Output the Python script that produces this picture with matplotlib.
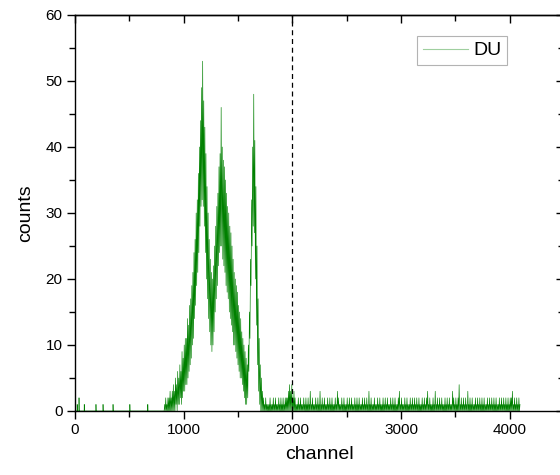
import numpy as np
import matplotlib
matplotlib.use("Agg")
import matplotlib.pyplot as plt

#%% Figure settings
plt.rcParams['font.family'] = ['Liberation Sans', 'DejaVu Sans']
plt.rcParams['axes.linewidth'] = 1.0

#%% Spectrum data (DU)
# isolated counts below the first peak
spike_ch = [20, 37, 85, 193, 258, 350, 505, 670]
spike_cnt = [1, 2, 1, 1, 1, 1, 1, 1]

# peak region, 10-channel bins starting at 820: lowest / highest count in each bin
peak_start = 820
peak_high = [1, 2, 1, 2, 2, 3, 2, 3, 4, 3,
             5, 4, 6, 5, 7, 6, 9, 8, 10, 11,
             11, 14, 13, 16, 17, 19, 21, 24, 26, 30,
             32, 36, 40, 44, 49, 53, 47, 43, 39, 34,
             30, 26, 23, 21, 20, 22, 25, 28, 31, 33,
             37, 39, 46, 40, 38, 37, 35, 33, 31, 30,
             28, 27, 25, 23, 21, 20, 19, 18, 16, 15,
             14, 12, 11, 10, 9, 8, 7, 10, 15, 23,
             32, 40, 48, 41, 34, 25, 17, 11, 7, 5,
             3, 2]
peak_low = [0, 0, 0, 0, 0, 0, 0, 0, 0, 0,
            0, 1, 0, 1, 1, 2, 1, 2, 3, 3,
            4, 4, 5, 6, 7, 8, 10, 11, 14, 16,
            19, 21, 24, 28, 31, 32, 31, 28, 24, 20,
            17, 14, 12, 10, 9, 10, 12, 15, 17, 19,
            22, 24, 25, 25, 23, 22, 21, 19, 18, 17,
            15, 14, 13, 12, 10, 10, 9, 8, 7, 6,
            5, 5, 4, 3, 2, 1, 1, 2, 6, 11,
            19, 25, 28, 27, 20, 13, 7, 3, 1, 0,
            0, 0]

# background above the peaks, 10-channel bins starting at 1740: highest count per bin
tail_start = 1740
tail_high = [1, 2, 1, 1, 1, 2, 1, 1, 2, 1,
             2, 1, 1, 2, 1, 2, 1, 2, 1, 2,
             2, 2, 3, 4, 3, 4, 2, 3, 2, 1,
             1, 2, 1, 2, 1, 1, 2, 1, 2, 1,
             2, 1, 3, 1, 2, 1, 1, 2, 1, 2,
             1, 3, 1, 2, 1, 2, 1, 1, 2, 1,
             2, 1, 2, 1, 1, 2, 1, 3, 2, 1,
             1, 2, 1, 2, 1, 1, 2, 1, 2, 1,
             2, 1, 1, 2, 1, 2, 1, 2, 1, 1,
             2, 1, 2, 1, 2, 1, 3, 1, 2, 1,
             1, 2, 1, 1, 2, 1, 2, 1, 1, 2,
             1, 2, 1, 2, 1, 1, 2, 1, 2, 1,
             2, 1, 1, 2, 3, 1, 2, 1, 1, 2,
             1, 2, 1, 1, 2, 1, 2, 1, 2, 1,
             2, 1, 2, 1, 1, 2, 1, 2, 1, 2,
             3, 1, 2, 1, 1, 2, 1, 3, 1, 2,
             1, 2, 1, 2, 1, 1, 2, 1, 2, 1,
             2, 1, 1, 3, 2, 1, 2, 1, 2, 4,
             1, 2, 1, 2, 1, 2, 1, 3, 1, 2,
             1, 2, 1, 1, 2, 1, 2, 1, 2, 1,
             2, 1, 2, 1, 1, 2, 1, 2, 1, 2,
             1, 2, 1, 2, 1, 1, 2, 1, 2, 1,
             2, 1, 2, 1, 2, 1, 2, 2, 3, 1,
             2, 1, 2, 1, 2, 1]

#%% Build the trace
low_ch = np.arange(0, peak_start)
low_cnt = np.zeros(len(low_ch))
low_cnt[spike_ch] = spike_cnt

pk_bins = peak_start + 10 * np.arange(len(peak_high))
pk_ch = np.column_stack([pk_bins, pk_bins + 5]).ravel()
pk_cnt = np.column_stack([peak_low, peak_high]).ravel()

tl_bins = tail_start + 10 * np.arange(len(tail_high))
tl_ch = np.column_stack([tl_bins, tl_bins + 5]).ravel()
tl_cnt = np.column_stack([np.zeros(len(tail_high)), tail_high]).ravel()

channel = np.concatenate([low_ch, pk_ch, tl_ch])
counts = np.concatenate([low_cnt, pk_cnt, tl_cnt])

#%% Plot
fig = plt.figure(figsize=(5.6, 4.75), dpi=100)
ax = fig.add_axes([75 / 560, 64 / 475, 489 / 560, 396 / 475])

ax.plot(channel, counts, color='#008000', lw=0.45, label='DU')
ax.axvline(2000, color='black', lw=0.9, ls=(0, (4, 3)))

ax.set_xlim(0, 4500)
ax.set_ylim(0, 60)
ax.set_xticks([0, 1000, 2000, 3000, 4000])
ax.set_xticks([500, 1500, 2500, 3500], minor=True)
ax.set_yticks(range(0, 61, 10))
ax.set_yticks(range(5, 60, 10), minor=True)
ax.tick_params(which='major', direction='out', length=6, width=1.0, labelsize=11, pad=3)
ax.tick_params(which='minor', direction='out', length=4, width=1.0)

# mirrored ticks on the top and right, pointing inward
top = ax.secondary_xaxis('top')
top.set_xticks([0, 1000, 2000, 3000, 4000])
top.set_xticks([500, 1500, 2500, 3500], minor=True)
top.tick_params(which='major', direction='in', length=6, width=1.0, labeltop=False)
top.tick_params(which='minor', direction='in', length=4, width=1.0)
right = ax.secondary_yaxis('right')
right.set_yticks(range(0, 61, 10))
right.set_yticks(range(5, 60, 10), minor=True)
right.tick_params(which='major', direction='in', length=6, width=1.0, labelright=False)
right.tick_params(which='minor', direction='in', length=4, width=1.0)

ax.set_xlabel('channel', fontsize=14, labelpad=6)
ax.set_ylabel('counts', fontsize=14, labelpad=8)

leg = ax.legend(loc='upper left', bbox_to_anchor=(342 / 489, 1 - 21 / 396),
                fontsize=14, frameon=True, fancybox=False, handlelength=2.3,
                handletextpad=0.3, borderpad=0.3, borderaxespad=0)
leg.get_frame().set_edgecolor('#a0a0a0')
leg.get_frame().set_linewidth(0.8)
leg.get_lines()[0].set_color('#9fcf9f')
leg.get_lines()[0].set_linewidth(0.8)

fig.savefig('out.png', dpi=100)
